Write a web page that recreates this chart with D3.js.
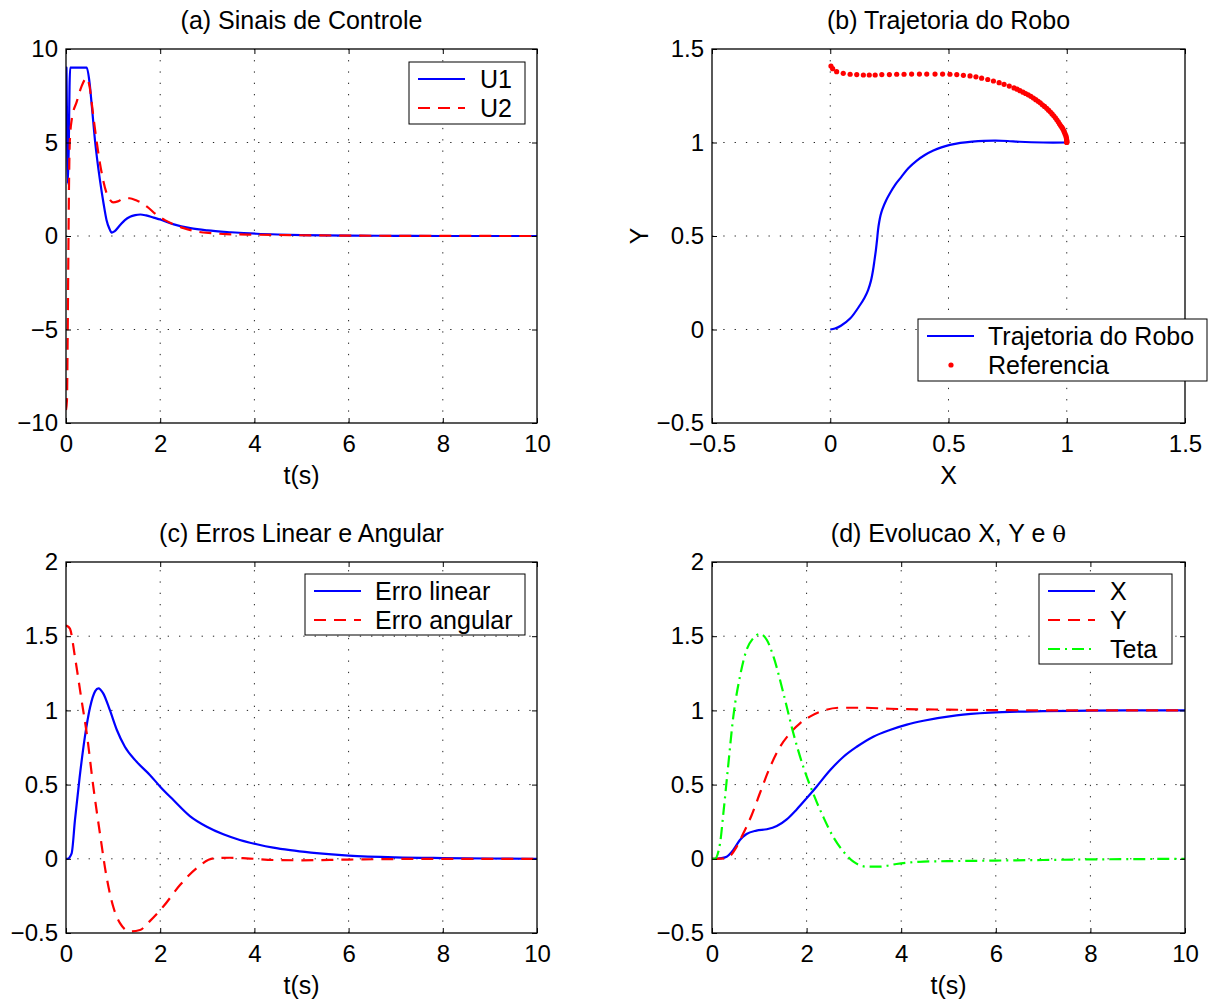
<!DOCTYPE html>
<html><head><meta charset="utf-8">
<script src="https://cdn.jsdelivr.net/npm/d3@7"></script>
<style>
body{margin:0;background:#fff;}
text{font-family:"Liberation Sans",Arial,Helvetica,sans-serif;fill:#000;}
</style></head>
<body><svg id="chart" width="1210" height="1001"></svg>
<script>
// ---------- DATA ----------
// (a) Sinais de Controle
const tU1 = [0, 0.01, 0.025, 0.04, 0.06, 0.075, 0.09, 0.12, 0.3, 0.44, 0.5, 0.55, 0.62, 0.72, 0.8, 0.86, 0.92, 0.97, 1.03, 1.15, 1.25, 1.36, 1.47, 1.58, 1.7, 1.86, 2.0, 2.29, 2.64, 3.0, 3.5, 4.05, 4.5, 5, 6, 7, 8, 10];
const U1  = [9, 9, 5, 2.8, 5, 8, 9, 9, 9, 9, 8.2, 6.9, 5.0, 3.0, 1.7, 0.86, 0.4, 0.18, 0.25, 0.59, 0.85, 1.03, 1.12, 1.15, 1.1, 0.98, 0.88, 0.62, 0.42, 0.3, 0.2, 0.12, 0.08, 0.05, 0.02, 0.01, 0, 0];
const tU2 = [0, 0.02, 0.035, 0.05, 0.065, 0.08, 0.12, 0.23, 0.33, 0.44, 0.5, 0.58, 0.72, 0.86, 0.93, 1.0, 1.1, 1.22, 1.35, 1.5, 1.6, 1.72, 1.93, 2.1, 2.29, 2.5, 2.79, 3.1, 3.4, 4.05, 5, 6, 8, 10];
const U2  = [-9.3, -8.8, -5.5, -1, 3, 5, 6.2, 7.2, 8.0, 8.45, 8.0, 6.4, 3.9, 2.3, 1.95, 1.8, 1.85, 2.0, 2.02, 1.9, 1.78, 1.57, 1.12, 0.85, 0.62, 0.42, 0.23, 0.15, 0.1, 0.07, 0.04, 0.02, 0.005, 0];

// (b) Trajetoria do Robo
const robotX = [0, 0.02, 0.045, 0.085, 0.126, 0.145, 0.16, 0.172, 0.181, 0.187, 0.193, 0.198, 0.202, 0.207, 0.213, 0.221, 0.236, 0.253, 0.275, 0.3, 0.33, 0.366, 0.4, 0.436, 0.47, 0.506, 0.55, 0.6, 0.65, 0.7, 0.75, 0.8, 0.9, 1.0];
const robotY = [0, 0.005, 0.02, 0.06, 0.131, 0.17, 0.211, 0.26, 0.318, 0.37, 0.425, 0.48, 0.532, 0.575, 0.612, 0.645, 0.69, 0.73, 0.775, 0.815, 0.862, 0.903, 0.933, 0.957, 0.974, 0.987, 0.998, 1.005, 1.009, 1.01, 1.008, 1.004, 1.0, 1.0];
const refX = [0.003, 0.01, 0.027, 0.055, 0.084, 0.112, 0.140, 0.165, 0.19, 0.218, 0.25, 0.281, 0.312, 0.344, 0.377, 0.408, 0.443, 0.475, 0.506, 0.535, 0.563, 0.591, 0.616, 0.640, 0.666, 0.690, 0.714, 0.735, 0.757, 0.777,
  0.79, 0.802, 0.815, 0.826, 0.837, 0.848, 0.859, 0.869, 0.879, 0.888, 0.897, 0.906, 0.915, 0.923, 0.931, 0.938, 0.945, 0.952, 0.958, 0.964, 0.969, 0.974, 0.979, 0.983, 0.987, 0.990, 0.993, 0.996, 0.998, 0.999, 1.0, 1.0, 1.0, 1.0];
const refY = [1.409, 1.395, 1.379, 1.370, 1.365, 1.363, 1.361, 1.361, 1.361, 1.363, 1.363, 1.365, 1.365, 1.366, 1.366, 1.366, 1.366, 1.366, 1.365, 1.363, 1.359, 1.356, 1.351, 1.344, 1.337, 1.329, 1.320, 1.311, 1.302, 1.292,
  1.285, 1.277, 1.269, 1.262, 1.255, 1.247, 1.238, 1.229, 1.220, 1.212, 1.202, 1.193, 1.183, 1.173, 1.163, 1.153, 1.143, 1.132, 1.121, 1.111, 1.100, 1.091, 1.082, 1.074, 1.064, 1.055, 1.046, 1.037, 1.028, 1.019, 1.012, 1.006, 1.002, 1.0];

// (c) Erros Linear e Angular
const tLin = [0, 0.03, 0.12, 0.19, 0.29, 0.40, 0.51, 0.62, 0.69, 0.79, 0.93, 1.08, 1.25, 1.5, 1.78, 2.0, 2.28, 2.63, 2.99, 3.34, 3.69, 4.05, 4.4, 4.76, 5.2, 6, 7, 8, 9, 10];
const erroLinear = [0, 0, 0.037, 0.26, 0.55, 0.82, 1.02, 1.13, 1.149, 1.115, 1.003, 0.868, 0.755, 0.654, 0.565, 0.486, 0.396, 0.288, 0.216, 0.165, 0.127, 0.098, 0.075, 0.058, 0.042, 0.022, 0.01, 0.005, 0.002, 0];
const tAng = [0, 0.03, 0.085, 0.19, 0.33, 0.44, 0.58, 0.72, 0.86, 1.0, 1.15, 1.36, 1.57, 1.78, 2.07, 2.42, 2.77, 3.13, 3.48, 3.83, 4.4, 5, 6, 8, 10];
const erroAngular = [1.571, 1.568, 1.55, 1.36, 1.07, 0.846, 0.486, 0.172, -0.12, -0.32, -0.435, -0.49, -0.48, -0.42, -0.32, -0.177, -0.064, 0.003, 0.007, 0.003, -0.008, -0.01, -0.005, 0, 0];

// (d) Evolucao X, Y e theta
const tX = [0, 0.06, 0.2, 0.31, 0.45, 0.59, 0.73, 0.94, 1.16, 1.37, 1.58, 1.79, 2.0, 2.21, 2.5, 2.78, 3.06, 3.41, 3.76, 4.12, 4.47, 5.17, 5.88, 7, 8, 9, 10];
const evoX = [0, 0, 0.005, 0.014, 0.06, 0.127, 0.167, 0.19, 0.199, 0.221, 0.266, 0.333, 0.408, 0.486, 0.598, 0.688, 0.755, 0.823, 0.868, 0.904, 0.93, 0.967, 0.985, 0.995, 0.998, 1.0, 1.0];
const tY = [0, 0.06, 0.2, 0.31, 0.52, 0.66, 0.84, 1.01, 1.23, 1.44, 1.65, 1.86, 2.07, 2.35, 2.71, 3.2, 3.76, 5, 6, 8, 10];
const evoY = [0, 0, 0.001, 0.004, 0.08, 0.17, 0.295, 0.44, 0.62, 0.755, 0.846, 0.913, 0.958, 0.998, 1.018, 1.018, 1.011, 1.005, 1.002, 1.0, 1.0];
const tTeta = [0, 0.06, 0.17, 0.24, 0.34, 0.45, 0.59, 0.73, 0.87, 1.01, 1.16, 1.3, 1.51, 1.72, 1.93, 2.14, 2.35, 2.56, 2.78, 2.99, 3.27, 3.55, 3.9, 4.47, 5.2, 6, 7, 8, 9, 10];
const teta = [0, 0, 0.104, 0.306, 0.62, 0.957, 1.227, 1.407, 1.486, 1.515, 1.474, 1.362, 1.115, 0.846, 0.62, 0.44, 0.284, 0.149, 0.048, -0.019, -0.053, -0.053, -0.035, -0.019, -0.015, -0.012, -0.008, -0.004, -0.002, 0];

// tick values
const tTicks = [0, 2, 4, 6, 8, 10];
const uTicks = [-10, -5, 0, 5, 10];
const xyTicks = [-0.5, 0, 0.5, 1, 1.5];
const errTicks = [-0.5, 0, 0.5, 1, 1.5, 2];

// titles / labels
const titles = ["(a) Sinais de Controle", "(b) Trajetoria do Robo", "(c) Erros Linear e Angular", "(d) Evolucao X, Y e "];
const legA = ["U1", "U2"];
const legB = ["Trajetoria do Robo", "Referencia"];
const legC = ["Erro linear", "Erro angular"];
const legD = ["X", "Y", "Teta"];

// ---------- DRAW ----------
const svg = d3.select("#chart");
const FS = 24, FS2 = 25;
const BLUE = "#0000ff", RED = "#ff0000", GREEN = "#00ff00";
const DASH = "12,8", DASHDOT = "12,5,2,5";
const LW = 2.2;
const fmt = d3.format("");

function panel(id, box, xd, yd, xt, yt) {
  const x = d3.scaleLinear().domain(xd).range([box.x0, box.x1]);
  const y = d3.scaleLinear().domain(yd).range([box.y1, box.y0]);
  const g = svg.append("g");
  g.append("rect").attr("x", box.x0).attr("y", box.y0).attr("width", box.x1 - box.x0).attr("height", box.y1 - box.y0).attr("fill", "#fff");
  const grid = g.append("g").attr("stroke", "#222").attr("stroke-width", 1).attr("stroke-dasharray", "1.3,10");
  xt.slice(1, -1).forEach(v => grid.append("line").attr("x1", x(v)).attr("x2", x(v)).attr("y1", box.y1).attr("y2", box.y0));
  yt.slice(1, -1).forEach(v => grid.append("line").attr("x1", box.x0).attr("x2", box.x1).attr("y1", y(v)).attr("y2", y(v)));
  svg.append("clipPath").attr("id", "clip" + id).append("rect").attr("x", box.x0).attr("y", box.y0 - 2).attr("width", box.x1 - box.x0).attr("height", box.y1 - box.y0 + 4);
  const plot = svg.append("g").attr("clip-path", `url(#clip${id})`);
  const ax = svg.append("g");
  ax.append("g").attr("transform", `translate(0,${box.y1})`)
    .call(d3.axisBottom(x).tickValues(xt).tickFormat(fmt).tickSizeInner(-5).tickSizeOuter(0).tickPadding(12));
  ax.append("g").attr("transform", `translate(${box.x0},0)`)
    .call(d3.axisLeft(y).tickValues(yt).tickFormat(fmt).tickSizeInner(-5).tickSizeOuter(0).tickPadding(8));
  ax.append("g").attr("transform", `translate(0,${box.y0})`)
    .call(d3.axisTop(x).tickValues(xt).tickFormat("").tickSizeInner(-5).tickSizeOuter(0));
  ax.append("g").attr("transform", `translate(${box.x1},0)`)
    .call(d3.axisRight(y).tickValues(yt).tickFormat("").tickSizeInner(-5).tickSizeOuter(0));
  ax.selectAll(".domain").remove();
  ax.selectAll(".tick line").attr("stroke", "#000").attr("stroke-width", 1);
  ax.selectAll("text").attr("font-size", FS).attr("font-family", '"Liberation Sans",Arial,sans-serif').attr("fill", "#000");
  ax.append("rect").attr("x", box.x0).attr("y", box.y0).attr("width", box.x1 - box.x0).attr("height", box.y1 - box.y0)
    .attr("fill", "none").attr("stroke", "#000").attr("stroke-width", 1.3);
  return {x, y, plot, box};
}

function series(P, xs, ys, color, dash, curve) {
  const pts = xs.map((v, i) => [v, ys[i]]);
  const line = d3.line().x(d => P.x(d[0])).y(d => P.y(d[1])).curve(curve || d3.curveMonotoneX);
  P.plot.append("path").datum(pts).attr("d", line).attr("fill", "none").attr("stroke", color)
    .attr("stroke-width", LW).attr("stroke-dasharray", dash || null).attr("stroke-linejoin", "round");
}

function legend(lb, entries) {
  const g = svg.append("g");
  g.append("rect").attr("x", lb.x).attr("y", lb.y).attr("width", lb.w).attr("height", lb.h)
    .attr("fill", "#fff").attr("stroke", "#000").attr("stroke-width", 1);
  entries.forEach((e, i) => {
    const cy = lb.y + 17 + i * 29;
    if (e.marker) {
      g.append("circle").attr("cx", lb.x + 33).attr("cy", cy).attr("r", 2.6).attr("fill", e.color);
    } else {
      g.append("line").attr("x1", lb.x + 9).attr("x2", lb.x + 56).attr("y1", cy).attr("y2", cy)
        .attr("stroke", e.color).attr("stroke-width", LW).attr("stroke-dasharray", e.dash || null);
    }
    g.append("text").attr("x", lb.x + lb.tx).attr("y", cy + 9).attr("font-size", FS2).text(e.label);
  });
}

function texts(box, title, xlabel, ylabel) {
  const cx = (box.x0 + box.x1) / 2;
  const t = svg.append("text").attr("x", cx).attr("y", box.y0 - 20).attr("text-anchor", "middle").attr("font-size", FS2);
  t.text(title);
  svg.append("text").attr("x", cx).attr("y", box.y1 + 61).attr("text-anchor", "middle").attr("font-size", FS2).text(xlabel);
  if (ylabel) {
    svg.append("text").attr("transform", `translate(${box.x0 - 64},${(box.y0 + box.y1) / 2}) rotate(-90)`)
      .attr("text-anchor", "middle").attr("font-size", FS2).text(ylabel);
  }
  return t;
}

const boxA = {x0: 66, x1: 537, y0: 49, y1: 423};
const boxB = {x0: 712, x1: 1185, y0: 49, y1: 423};
const boxC = {x0: 66, x1: 537, y0: 562, y1: 933};
const boxD = {x0: 712, x1: 1185, y0: 562, y1: 933};

// (a)
const A = panel("a", boxA, [0, 10], [-10, 10], tTicks, uTicks);
series(A, tU1, U1, BLUE);
series(A, tU2, U2, RED, DASH);
texts(boxA, titles[0], "t(s)");
legend({x: 409, y: 62, w: 116, h: 62, tx: 71}, [{label: legA[0], color: BLUE}, {label: legA[1], color: RED, dash: DASH}]);

// (b)
const B = panel("b", boxB, [-0.5, 1.5], [-0.5, 1.5], xyTicks, xyTicks);
series(B, robotX, robotY, BLUE, null, d3.curveCatmullRom.alpha(0.5));
B.plot.selectAll("circle.ref").data(refX.map((v, i) => [v, refY[i]])).enter().append("circle")
  .attr("cx", d => B.x(d[0])).attr("cy", d => B.y(d[1])).attr("r", 2.6).attr("fill", RED);
texts(boxB, titles[1], "X", "Y");
legend({x: 918, y: 319, w: 289, h: 62, tx: 70}, [{label: legB[0], color: BLUE}, {label: legB[1], color: RED, marker: true}]);

// (c)
const C = panel("c", boxC, [0, 10], [-0.5, 2], tTicks, errTicks);
series(C, tLin, erroLinear, BLUE);
series(C, tAng, erroAngular, RED, DASH);
texts(boxC, titles[2], "t(s)");
legend({x: 305, y: 574, w: 220, h: 61, tx: 70}, [{label: legC[0], color: BLUE}, {label: legC[1], color: RED, dash: DASH}]);

// (d)
const D = panel("d", boxD, [0, 10], [-0.5, 2], tTicks, errTicks);
series(D, tX, evoX, BLUE);
series(D, tY, evoY, RED, DASH);
series(D, tTeta, teta, GREEN, DASHDOT);
const td = texts(boxD, titles[3], "t(s)");
td.append("tspan").attr("font-family", '"DejaVu Serif","Liberation Serif",serif').attr("font-size", FS2 - 2).text("θ");
legend({x: 1039, y: 574, w: 133, h: 90, tx: 71}, [{label: legD[0], color: BLUE}, {label: legD[1], color: RED, dash: DASH}, {label: legD[2], color: GREEN, dash: DASHDOT}]);
</script>
</body></html>
